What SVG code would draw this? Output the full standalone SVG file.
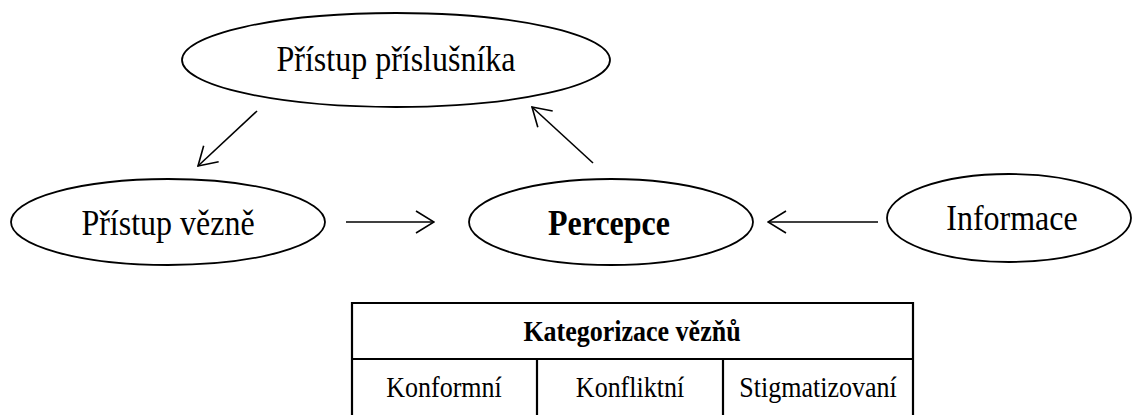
<svg xmlns="http://www.w3.org/2000/svg" width="1132" height="415" viewBox="0 0 1132 415">
<style>
.node{fill:#fff;stroke:#000;stroke-width:1.8}
.lbl{font-family:"Liberation Serif","Times New Roman",serif;font-size:32px;fill:#000;text-anchor:middle}
.bold{font-weight:bold}
.conn{stroke:#000;stroke-width:1.6;fill:none}
.tbl{stroke:#000;stroke-width:2.2;fill:none}
.cell{font-family:"Liberation Serif","Times New Roman",serif;font-size:26px;fill:#000;text-anchor:middle}
</style>
<defs>
<marker id="arr" viewBox="0 0 20 26" refX="19" refY="13" markerWidth="20" markerHeight="26" markerUnits="userSpaceOnUse" orient="auto">
<path d="M1,2 L19,13 L1,24" fill="none" stroke="#000" stroke-width="1.6"/>
</marker>
</defs>
<rect width="1132" height="415" fill="#fff"/>
<g id="node-pristup-prislusnika">
<ellipse class="node" cx="396" cy="60" rx="214" ry="47"/>
<text class="lbl" transform="translate(396,71) scale(1,1.15)">Přístup příslušníka</text>
</g>
<g id="node-pristup-vezne">
<ellipse class="node" cx="168" cy="222" rx="157" ry="43"/>
<text class="lbl" transform="translate(168,235) scale(1,1.15)">Přístup vězně</text>
</g>
<g id="node-percepce">
<ellipse class="node" cx="611" cy="222" rx="142" ry="43"/>
<text class="lbl bold" transform="translate(609,235) scale(1,1.15)">Percepce</text>
</g>
<g id="node-informace">
<ellipse class="node" cx="1009" cy="218" rx="122" ry="44"/>
<text class="lbl" transform="translate(1012,230) scale(1,1.15)">Informace</text>
</g>
<g id="connectors">
<line class="conn" x1="257" y1="111" x2="198" y2="166" marker-end="url(#arr)"/>
<line class="conn" x1="593" y1="163" x2="532" y2="107" marker-end="url(#arr)"/>
<line class="conn" x1="346" y1="222" x2="434" y2="222" marker-end="url(#arr)"/>
<line class="conn" x1="878" y1="222" x2="768" y2="222" marker-end="url(#arr)"/>
</g>
<g id="table-kategorizace">
<path class="tbl" d="M352,416 L352,303 L913,303 L913,416 M352,359 L913,359 M537,359 L537,416 M723,359 L723,416"/>
<text class="cell bold" transform="translate(632,341) scale(1,1.15)">Kategorizace vězňů</text>
<text class="cell" transform="translate(444,397) scale(1,1.15)">Konformní</text>
<text class="cell" transform="translate(630,397) scale(1,1.15)">Konfliktní</text>
<text class="cell" transform="translate(818,397) scale(1,1.15)">Stigmatizovaní</text>
</g>
</svg>
